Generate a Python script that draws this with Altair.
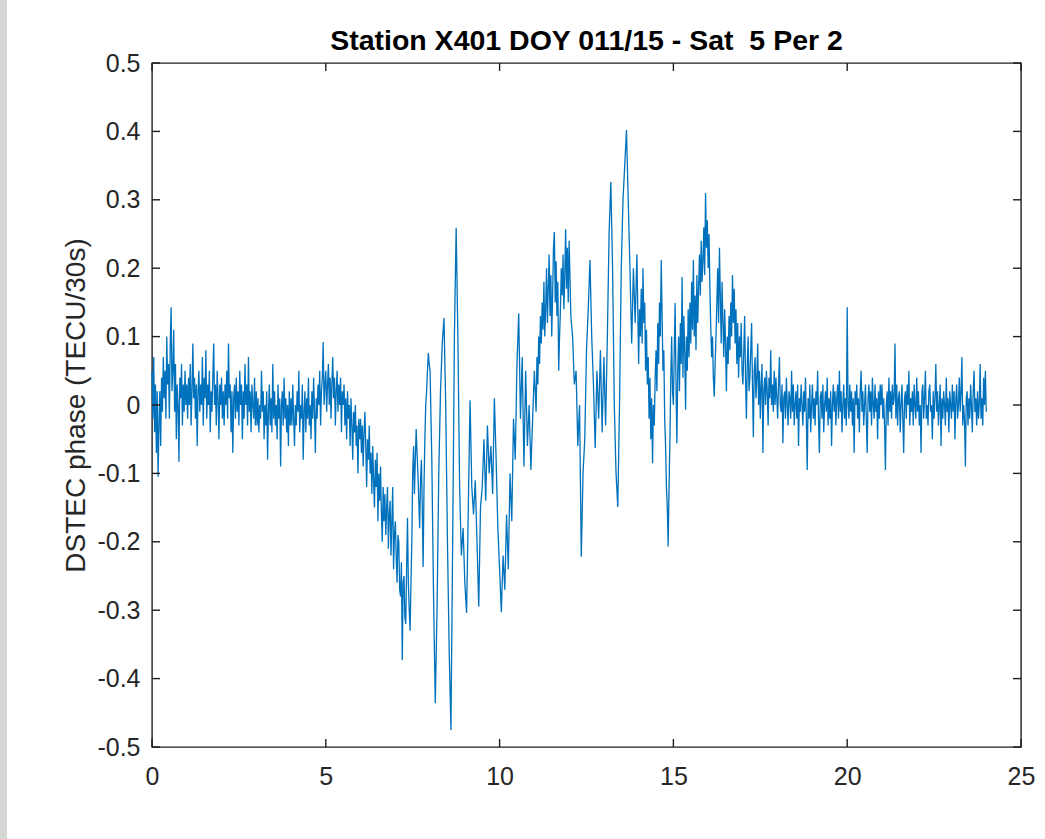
import altair as alt
import pandas as pd

# DSTEC phase samples, one list per hour
# (40 samples per hour where the trace is a dense band, 20 elsewhere)
h00 = [0.05, -0.02, 0.07, -0.04, 0.03, -0.07, 0.02, -0.105, -0.03, 0.02, -0.06, 0.04, -0.01, 0.07, 0.01, 0.05, -0.02, 0.10, 0.03, 0.06,
       -0.02, 0.09, 0.143, 0.02, 0.05, 0.11, -0.01, 0.06, -0.05, 0.03, 0.00, -0.083, 0.04, 0.01, 0.06, -0.03, 0.03, -0.01, 0.05, 0.00]
h01 = [0.03, -0.02, 0.04, 0.00, 0.06, -0.03, 0.02, 0.09, 0.01, 0.04, -0.02, 0.03, -0.06, 0.02, 0.05, -0.01, 0.03, 0.00, 0.07, -0.03,
       0.04, 0.01, 0.08, -0.02, 0.03, 0.00, 0.05, -0.04, 0.02, -0.01, 0.04, 0.09, 0.00, 0.03, -0.03, 0.05, 0.01, -0.05, 0.03, 0.00]
h02 = [0.04, -0.02, 0.02, -0.03, 0.03, 0.00, 0.05, -0.02, 0.09, 0.01, 0.03, -0.04, 0.02, -0.07, 0.01, 0.03, -0.02, 0.04, -0.01, 0.02,
       -0.03, 0.05, 0.00, 0.03, -0.05, 0.02, -0.02, 0.06, 0.00, 0.03, -0.03, 0.07, -0.01, 0.02, -0.04, 0.03, 0.00, -0.02, 0.04, -0.03]
h03 = [0.02, -0.03, 0.01, -0.04, 0.00, -0.02, 0.05, -0.01, 0.02, -0.05, 0.00, -0.03, 0.02, -0.08, -0.01, 0.03, -0.03, 0.01, -0.04, 0.06,
       -0.02, 0.02, -0.03, 0.00, -0.05, 0.03, -0.02, 0.01, -0.09, 0.00, 0.02, -0.03, 0.04, -0.02, 0.01, -0.04, 0.00, -0.06, 0.02, -0.03]
h04 = [0.01, -0.03, 0.03, -0.02, -0.06, 0.00, -0.03, 0.02, -0.01, 0.05, -0.04, 0.00, -0.02, 0.03, -0.08, -0.01, 0.02, -0.04, 0.01, -0.02,
       0.04, -0.03, 0.00, -0.05, 0.02, -0.02, 0.04, -0.01, -0.07, 0.01, -0.02, 0.03, 0.00, 0.05, -0.03, 0.02, 0.04, 0.092, 0.00, 0.03]
h05 = [0.05, -0.01, 0.03, 0.06, 0.00, 0.04, -0.02, 0.03, 0.07, 0.01, 0.04, -0.03, 0.02, 0.05, -0.01, 0.03, 0.00, 0.04, -0.04, 0.02,
       0.00, 0.03, -0.03, 0.01, -0.05, 0.02, -0.02, 0.00, -0.06, 0.01, -0.03, -0.08, -0.01, -0.04, 0.00, -0.06, -0.03, -0.10, -0.02, -0.05]
h06 = [-0.02, -0.07, -0.03, -0.09, -0.04, -0.01, -0.06, -0.12, -0.05, -0.08, -0.03, -0.10, -0.07, -0.13, -0.06, -0.11, -0.15, -0.08, -0.12, -0.07,
       -0.17, -0.10, -0.14, -0.09, -0.16, -0.20, -0.12, -0.17, -0.13, -0.19, -0.15, -0.12, -0.21, -0.16, -0.14, -0.22, -0.17, -0.12, -0.24, -0.19]
h07 = [-0.17, -0.22, -0.26, -0.19, -0.20, -0.27, -0.28, -0.23, -0.373, -0.26, -0.25, -0.31, -0.32, -0.24, -0.165, -0.26, -0.30, -0.33, -0.26, -0.20,
       -0.10, -0.06, -0.13, -0.08, -0.035, -0.07, -0.10, -0.14, -0.18, -0.11, -0.08, -0.15, -0.237, -0.12, -0.05, 0.00, 0.02, 0.05, 0.076, 0.06]
h08 = [0.05, -0.08, -0.28, -0.436, -0.30, -0.10, 0.02, 0.09, 0.127, 0.00, -0.20, -0.36, -0.475, -0.20, 0.10, 0.259, 0.10, -0.12, -0.22, -0.18]
h09 = [-0.26, -0.304, -0.15, 0.007, -0.12, -0.16, -0.11, -0.20, -0.295, -0.15, -0.12, -0.05, -0.14, -0.03, -0.10, -0.06, -0.13, 0.01, -0.08, -0.18]
h10 = [-0.24, -0.303, -0.22, -0.27, -0.16, -0.24, -0.10, -0.17, -0.02, -0.08, 0.06, 0.134, -0.02, 0.07, -0.09, 0.05, -0.06, 0.00, -0.095, -0.02]
h11 = [0.05, 0.02, -0.01, 0.07, 0.03, 0.10, 0.06, 0.13, 0.09, 0.15, 0.11, 0.18, 0.10, 0.14, 0.20, 0.12, 0.17, 0.22, 0.13, 0.19,
       0.10, 0.16, 0.23, 0.253, 0.15, 0.21, 0.13, 0.18, 0.05, 0.10, 0.14, 0.20, 0.16, 0.22, 0.14, 0.19, 0.257, 0.17, 0.23, 0.15]
h12 = [0.24, 0.13, 0.10, 0.03, 0.05, -0.06, 0.00, -0.222, -0.10, -0.05, 0.08, 0.14, 0.212, 0.10, 0.03, -0.063, 0.05, -0.02, 0.08, -0.04]
h13 = [0.07, -0.03, 0.10, 0.25, 0.326, 0.20, 0.00, -0.10, -0.149, 0.00, 0.20, 0.30, 0.35, 0.402, 0.30, 0.20, 0.09, 0.20, 0.12, 0.22]
h14 = [0.06, 0.14, 0.10, 0.17, 0.09, 0.20, 0.12, 0.15, 0.05, 0.11, 0.03, 0.07, -0.02, 0.04, -0.05, 0.01, -0.085, 0.00, -0.03, 0.04,
       0.08, 0.02, 0.12, 0.06, 0.15, 0.10, 0.212, 0.13, 0.05, 0.08, -0.02, -0.06, -0.12, -0.15, -0.207, -0.12, -0.05, 0.04, 0.10, 0.02]
h15 = [0.00, 0.08, 0.149, 0.03, -0.056, 0.05, 0.10, 0.02, 0.12, 0.06, 0.187, 0.04, 0.13, 0.08, -0.007, 0.10, 0.05, 0.14, 0.07, 0.15,
       0.09, 0.18, 0.11, 0.212, 0.10, 0.16, 0.08, 0.19, 0.12, 0.17, 0.22, 0.16, 0.24, 0.18, 0.21, 0.26, 0.19, 0.31, 0.23, 0.27]
h16 = [0.20, 0.25, 0.17, 0.114, 0.07, 0.10, 0.04, 0.012, 0.06, 0.10, 0.15, 0.20, 0.12, 0.23, 0.16, 0.09, 0.18, 0.12, 0.07, 0.14,
       0.09, 0.02, 0.10, 0.06, 0.13, 0.08, 0.15, 0.10, 0.19, 0.12, 0.17, 0.09, 0.14, 0.06, 0.12, 0.04, 0.10, 0.07, 0.12, 0.05]
h17 = [0.03, 0.08, 0.13, 0.04, -0.02, 0.06, 0.10, 0.02, 0.04, 0.08, 0.12, 0.03, -0.047, 0.05, 0.07, 0.01, 0.04, 0.09, 0.00, 0.05,
       -0.02, 0.03, 0.06, -0.07, 0.02, 0.04, 0.00, 0.05, 0.02, -0.03, 0.04, 0.01, 0.08, 0.00, 0.03, -0.01, 0.05, 0.00, 0.04, 0.01]
h18 = [-0.02, 0.03, 0.07, 0.00, -0.01, 0.03, -0.056, 0.01, 0.02, -0.02, 0.04, 0.00, -0.03, 0.02, 0.01, -0.02, 0.05, -0.01, 0.03, -0.03,
       0.00, 0.02, -0.02, 0.03, -0.06, 0.01, -0.01, 0.03, 0.00, -0.03, 0.02, -0.01, 0.04, -0.02, -0.095, 0.01, -0.02, 0.03, -0.04, 0.00]
h19 = [0.03, -0.02, 0.01, -0.03, 0.02, 0.00, 0.05, -0.02, -0.07, 0.01, 0.02, -0.02, 0.03, -0.04, 0.00, 0.02, -0.01, 0.04, -0.03, 0.01,
       -0.02, 0.02, -0.06, 0.00, 0.03, -0.01, 0.02, -0.03, 0.01, 0.03, -0.02, 0.05, -0.01, 0.02, -0.04, 0.00, 0.03, -0.02, 0.01, -0.03]
h20 = [0.143, 0.00, -0.02, 0.03, -0.01, 0.02, -0.03, 0.01, -0.07, 0.02, 0.00, 0.03, -0.02, 0.01, -0.04, 0.02, 0.05, -0.01, 0.02, -0.03,
       0.00, 0.03, -0.02, -0.07, 0.01, 0.03, -0.01, 0.02, -0.03, 0.04, 0.00, -0.02, 0.03, -0.01, 0.01, -0.05, 0.02, -0.02, 0.03, 0.00]
h21 = [0.03, -0.02, 0.01, -0.03, -0.095, 0.00, 0.02, -0.03, 0.04, -0.01, 0.02, -0.02, 0.03, 0.00, 0.01, 0.09, -0.02, 0.03, -0.03, 0.01,
       0.02, -0.04, 0.00, 0.03, -0.02, -0.07, 0.01, 0.02, -0.02, 0.03, 0.00, 0.05, -0.03, 0.01, -0.01, 0.02, -0.03, 0.03, 0.00, -0.02]
h22 = [0.04, -0.01, 0.02, -0.03, 0.00, -0.07, 0.02, 0.03, -0.02, 0.01, 0.05, -0.02, 0.00, -0.03, 0.02, 0.03, -0.01, 0.00, -0.05, 0.02,
       -0.02, 0.01, 0.06, -0.01, 0.02, -0.03, 0.00, 0.03, -0.06, 0.01, -0.02, 0.02, 0.00, -0.03, 0.04, -0.01, 0.01, -0.04, 0.02, 0.00]
h23 = [-0.02, 0.03, -0.01, 0.02, -0.05, 0.01, 0.03, -0.02, 0.00, 0.04, -0.01, 0.02, 0.07, -0.03, 0.00, -0.02, -0.09, 0.01, 0.02, -0.03,
       0.01, -0.02, 0.03, 0.00, -0.04, 0.02, 0.05, -0.01, 0.01, -0.03, 0.02, -0.02, 0.00, 0.06, -0.02, 0.01, -0.03, 0.04, 0.00, 0.05, -0.01]

x_ticks = [0, 5, 10, 15, 20, 25]
y_ticks = [-0.5, -0.4, -0.3, -0.2, -0.1, 0, 0.1, 0.2, 0.3, 0.4, 0.5]
title_text = "Station X401 DOY 011/15 - Sat\u00a0 5 Per 2"
y_title = "DSTEC phase (TECU/30s)"

hour_lists = [h00, h01, h02, h03, h04, h05, h06, h07, h08, h09, h10, h11,
              h12, h13, h14, h15, h16, h17, h18, h19, h20, h21, h22, h23]
rows = []
for h, lst in enumerate(hour_lists):
    n = 40 if len(lst) >= 40 else 20
    for j, v in enumerate(lst):
        rows.append({"t": round(h + j / n, 4), "v": v})
df = pd.DataFrame(rows)

W, H = 869, 684
FONT = "Liberation Sans"
AX = "#1e1e1e"

xscale = alt.Scale(domain=[0, 25], nice=False, zero=False)
yscale = alt.Scale(domain=[-0.5, 0.5], nice=False, zero=False)

label_expr = "replace(format(datum.value, '.1~f'), '\u2212', '-')"

line = alt.Chart(df).mark_line(color="#0072BD", strokeWidth=1.3).encode(
    x=alt.X("t:Q", scale=xscale, axis=alt.Axis(
        values=x_ticks, ticks=False, tickSize=0, domain=False, grid=False,
        labelFontSize=25, labelFont=FONT, labelColor="#262626", labelPadding=17,
        title=None, labelFlush=False)),
    y=alt.Y("v:Q", scale=yscale, axis=alt.Axis(
        values=y_ticks, ticks=False, tickSize=0, domain=False, grid=False,
        labelFontSize=25, labelFont=FONT, labelColor="#262626", labelPadding=12,
        labelExpr=label_expr, labelFlush=False,
        title=y_title, titleFont=FONT, titleFontSize=28, titleFontWeight="normal",
        titleColor="#262626", titleX=-68, titleY=H / 2, titleAlign="center",
        titleBaseline="alphabetic", titleAngle=270)),
)

xt = pd.DataFrame({"t": x_ticks})
yt = pd.DataFrame({"v": y_ticks})

xb = alt.Chart(xt).mark_rule(color=AX, strokeWidth=1.4).encode(
    x=alt.X("t:Q", scale=xscale), y=alt.value(H), y2=alt.value(H - 8))
xtop = alt.Chart(xt).mark_rule(color=AX, strokeWidth=1.4).encode(
    x=alt.X("t:Q", scale=xscale), y=alt.value(0), y2=alt.value(8))
yl = alt.Chart(yt).mark_rule(color=AX, strokeWidth=1.4).encode(
    y=alt.Y("v:Q", scale=yscale), x=alt.value(0), x2=alt.value(8))
yr = alt.Chart(yt).mark_rule(color=AX, strokeWidth=1.4).encode(
    y=alt.Y("v:Q", scale=yscale), x=alt.value(W), x2=alt.value(W - 8))

title = alt.Chart(pd.DataFrame({"s": [title_text]})).mark_text(
    font=FONT, fontSize=28.5, fontWeight="bold", color="#000000",
    align="center", baseline="alphabetic").encode(
    text="s:N", x=alt.value(W / 2), y=alt.value(-13))

strip = alt.Chart(pd.DataFrame({"s": [0]})).mark_rect(color="#d5d7d5").encode(
    x=alt.value(-152), x2=alt.value(-145), y=alt.value(-63), y2=alt.value(H + 92))

chart = alt.layer(strip, line, xb, xtop, yl, yr, title).properties(
    width=W, height=H,
    autosize=alt.AutoSizeParams(type="none"),
    padding={"left": 152, "top": 63, "right": 24, "bottom": 92},
).configure(
    background="white",
    view=alt.ViewConfig(stroke=AX, strokeWidth=1.4),
)

chart.save("out.html", embed_options={"renderer": "svg", "actions": False})
